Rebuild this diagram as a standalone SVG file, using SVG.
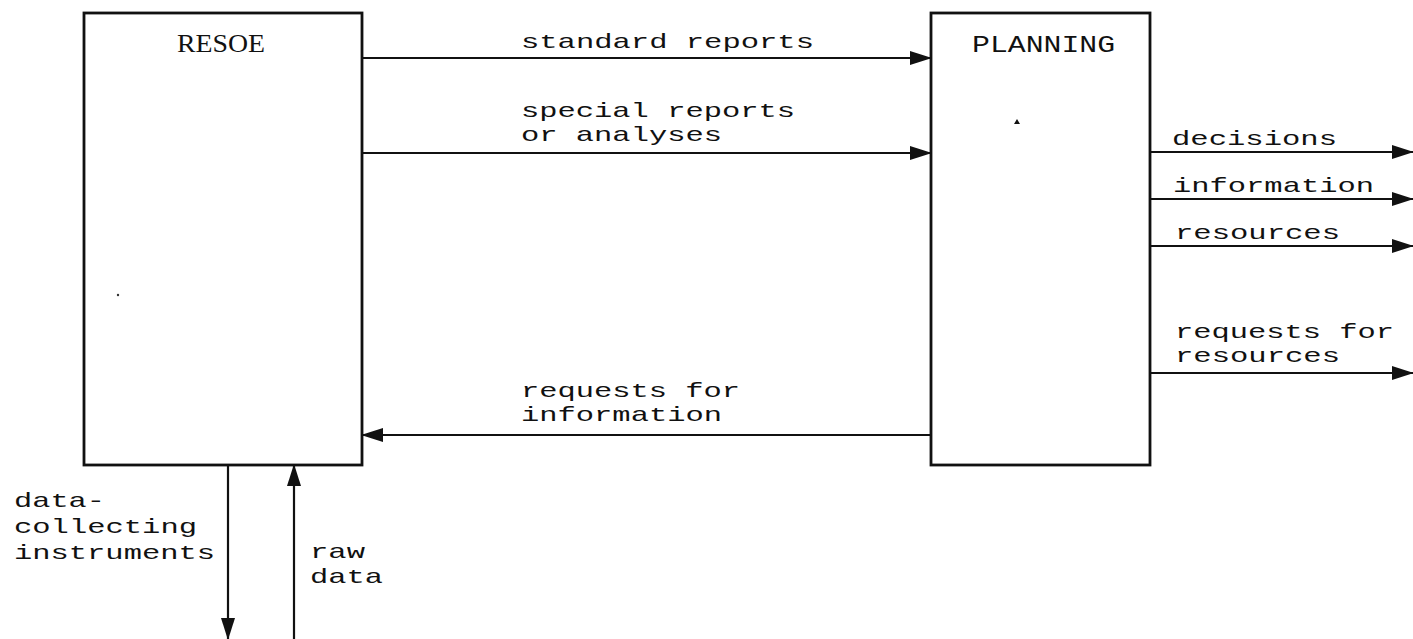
<svg xmlns="http://www.w3.org/2000/svg" width="1413" height="639" viewBox="0 0 1413 639">
<defs>
<style>
.box{fill:#fff;stroke:#111;stroke-width:2.8}
.ln{fill:none;stroke:#111;stroke-width:2.2}
.t{font-family:"Liberation Mono","DejaVu Sans Mono",monospace;font-size:21px;fill:#111}
.tc{font-family:"Liberation Mono","DejaVu Sans Mono",monospace;font-size:24px;fill:#111}
.ts{font-family:"Liberation Serif","DejaVu Serif",serif;font-size:25px;fill:#111}
</style>
<marker id="ah" viewBox="0 0 22 14" refX="21" refY="7" markerWidth="22" markerHeight="14" markerUnits="userSpaceOnUse" orient="auto">
<path d="M0,0 L22,7 L0,14 Z" fill="#111"/>
</marker>
</defs>
<rect width="1413" height="639" fill="#fff"/>
<g id="resoe">
<rect class="box" x="84" y="13" width="278" height="452"/>
<text class="ts" x="177" y="52" textLength="88" lengthAdjust="spacingAndGlyphs">RESOE</text>
<circle cx="118" cy="295" r="1.2" fill="#333"/>
</g>
<g id="planning">
<rect class="box" x="931" y="13" width="219" height="452"/>
<text class="tc" x="972" y="52" textLength="143" lengthAdjust="spacingAndGlyphs">PLANNING</text>
<path d="M1014,124 L1017,119 L1020,124 Z" fill="#111"/>
</g>
<g id="connectors">
<line class="ln" x1="362" y1="58" x2="931" y2="58" marker-end="url(#ah)"/>
<line class="ln" x1="362" y1="153" x2="931" y2="153" marker-end="url(#ah)"/>
<line class="ln" x1="931" y1="435" x2="362" y2="435" marker-end="url(#ah)"/>
<line class="ln" x1="1150" y1="152" x2="1413" y2="152" marker-end="url(#ah)"/>
<line class="ln" x1="1150" y1="199" x2="1413" y2="199" marker-end="url(#ah)"/>
<line class="ln" x1="1150" y1="246" x2="1413" y2="246" marker-end="url(#ah)"/>
<line class="ln" x1="1150" y1="373" x2="1413" y2="373" marker-end="url(#ah)"/>
<line class="ln" x1="228" y1="465" x2="228" y2="639" marker-end="url(#ah)"/>
<line class="ln" x1="294" y1="639" x2="294" y2="465" marker-end="url(#ah)"/>
</g>
<g id="labels">
<text class="t" x="521" y="48" textLength="293" lengthAdjust="spacingAndGlyphs">standard reports</text>
<text class="t" x="521" y="117" textLength="274" lengthAdjust="spacingAndGlyphs">special reports</text>
<text class="t" x="521" y="141" textLength="201" lengthAdjust="spacingAndGlyphs">or analyses</text>
<text class="t" x="521" y="397" textLength="219" lengthAdjust="spacingAndGlyphs">requests for</text>
<text class="t" x="521" y="421" textLength="201" lengthAdjust="spacingAndGlyphs">information</text>
<text class="t" x="1172" y="145" textLength="165" lengthAdjust="spacingAndGlyphs">decisions</text>
<text class="t" x="1173" y="192" textLength="201" lengthAdjust="spacingAndGlyphs">information</text>
<text class="t" x="1175" y="239" textLength="165" lengthAdjust="spacingAndGlyphs">resources</text>
<text class="t" x="1175" y="338" textLength="219" lengthAdjust="spacingAndGlyphs">requests for</text>
<text class="t" x="1175" y="362" textLength="165" lengthAdjust="spacingAndGlyphs">resources</text>
<text class="t" x="14" y="507" textLength="91" lengthAdjust="spacingAndGlyphs">data-</text>
<text class="t" x="14" y="533" textLength="183" lengthAdjust="spacingAndGlyphs">collecting</text>
<text class="t" x="14" y="559" textLength="201" lengthAdjust="spacingAndGlyphs">instruments</text>
<text class="t" x="310" y="558" textLength="55" lengthAdjust="spacingAndGlyphs">raw</text>
<text class="t" x="310" y="583" textLength="73" lengthAdjust="spacingAndGlyphs">data</text>
</g>
</svg>
